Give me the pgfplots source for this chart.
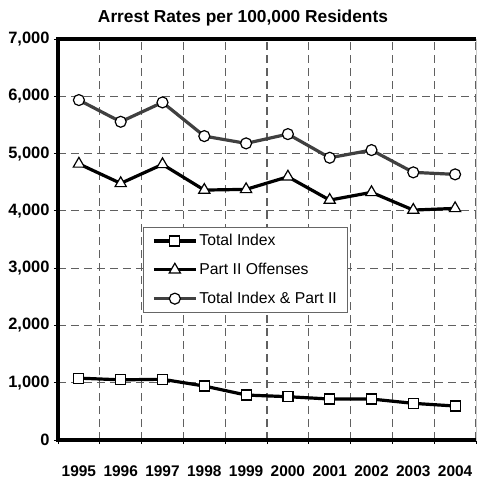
\documentclass[border=0pt]{standalone}
\usepackage{pgfplots}
\pgfplotsset{compat=1.18}
\usepackage{fontspec}
\setmainfont{Liberation Sans}

\definecolor{darkline}{HTML}{404040}
\definecolor{gridgray}{HTML}{606060}

\begin{document}
\begin{tikzpicture}
\begin{axis}[
  scale only axis,
  width=418bp, height=401bp,
  at={(0,0)}, anchor=south west,
  xmin=0, xmax=10, ymin=0, ymax=7000,
  xtick={0.5,1.5,...,9.5},
  xticklabels={1995,1996,1997,1998,1999,2000,2001,2002,2003,2004},
  minor xtick={0,1,...,10},
  ytick={0,1000,...,7000},
  major x tick style={draw=none},
  xminorgrids=true, ymajorgrids=true,
  grid style={gridgray, line width=1.1bp, dash pattern=on 8bp off 5bp},
  tick align=outside,
  xtick pos=bottom, ytick pos=left,
  major tick length=4bp, minor tick length=4bp,
  tick style={black, line width=0.8bp},
  axis line style={draw=gray!40, line width=0.8bp},
  /pgf/number format/assume math mode=true,
  /pgf/number format/1000 sep={,},
  scaled y ticks=false,
  xticklabel style={yshift=-18bp, font=\fontsize{15.5}{17}\selectfont\bfseries},
  yticklabel style={xshift=-1bp, font=\fontsize{16.5}{18}\selectfont\bfseries},
  legend style={
    at={(rel axis cs:0.203,0.531)}, anchor=north west,
    draw=gray!80!black, line width=0.8bp, fill=white,
    font=\fontsize{15.8}{18}\selectfont,
    inner xsep=9bp, inner ysep=5bp,
    row sep=12bp,
    cells={anchor=west}},
  legend cell align=left,
  legend image code/.code={
    \draw[mark repeat=2, mark phase=2, #1] plot coordinates {(0bp,0bp) (21bp,0bp) (42bp,0bp)};},
  every axis plot/.append style={line width=3.2bp},
  clip=false,
]
\addplot[black, mark=square*, mark options={fill=white, draw=black, line width=1.2bp, solid}, mark size=5bp]
  coordinates {(0.5,1080) (1.5,1050) (2.5,1060) (3.5,942) (4.5,785) (5.5,756) (6.5,715) (7.5,715) (8.5,640) (9.5,593)};
\addlegendentry{Total Index}
\addplot[black, mark=triangle*, mark options={fill=white, draw=black, line width=1.2bp, solid}, mark size=6.5bp]
  coordinates {(0.5,4820) (1.5,4480) (2.5,4811) (3.5,4363) (4.5,4375) (5.5,4595) (6.5,4188) (7.5,4323) (8.5,4014) (9.5,4043)};
\addlegendentry{Part II Offenses}
\addplot[darkline, mark=*, mark options={fill=white, draw=black, line width=1.2bp, solid}, mark size=5.5bp]
  coordinates {(0.5,5934) (1.5,5555) (2.5,5893) (3.5,5305) (4.5,5178) (5.5,5340) (6.5,4927) (7.5,5061) (8.5,4672) (9.5,4637)};
\addlegendentry{Total Index \& Part II}
\draw[black, line width=3.2bp] (rel axis cs:1,1) -- (rel axis cs:0,1) -- (rel axis cs:0,0) -- (rel axis cs:1,0);
\end{axis}
\node[anchor=base, font=\fontsize{17.4}{19}\selectfont\bfseries] at (185bp,417.3bp) {Arrest Rates per 100,000 Residents};
\pgfresetboundingbox
\path[use as bounding box] (-58bp,-38bp) rectangle (419bp,440bp);
\end{tikzpicture}
\end{document}
